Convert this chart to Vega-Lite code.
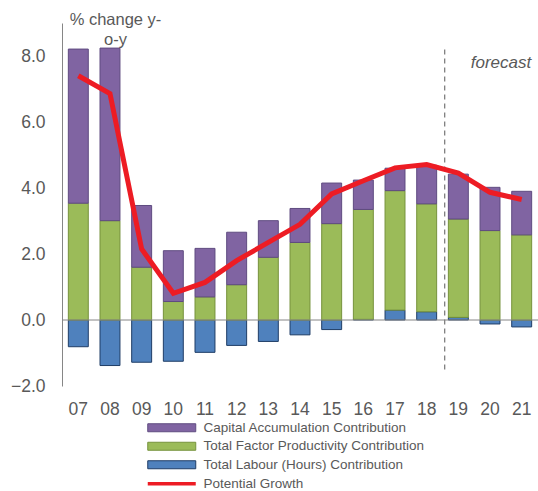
{
  "$schema": "https://vega.github.io/schema/vega-lite/v6.json",
  "autosize": {"type": "none"},
  "width": 476,
  "height": 363,
  "padding": {"left": 62, "top": 23, "right": 0, "bottom": 105},
  "background": "white",
  "config": {
    "view": {"stroke": null},
    "font": "Liberation Sans",
    "axis": {"labelFont": "Liberation Sans", "labelColor": "#595959", "labelFontSize": 17.5, "titleFont": "Liberation Sans"},
    "legend": {"labelFont": "Liberation Sans", "labelColor": "#595959", "labelFontSize": 13.5, "padding": 0, "labelLimit": 400}
  },
  "datasets": {
    "bars": [
      {"year": "07", "series": "Total Labour (Hours) Contribution", "value": -0.81},
      {"year": "07", "series": "Total Factor Productivity Contribution", "value": 3.54},
      {"year": "07", "series": "Capital Accumulation Contribution", "value": 4.67},
      {"year": "08", "series": "Total Labour (Hours) Contribution", "value": -1.38},
      {"year": "08", "series": "Total Factor Productivity Contribution", "value": 3.01},
      {"year": "08", "series": "Capital Accumulation Contribution", "value": 5.23},
      {"year": "09", "series": "Total Labour (Hours) Contribution", "value": -1.28},
      {"year": "09", "series": "Total Factor Productivity Contribution", "value": 1.60},
      {"year": "09", "series": "Capital Accumulation Contribution", "value": 1.87},
      {"year": "10", "series": "Total Labour (Hours) Contribution", "value": -1.25},
      {"year": "10", "series": "Total Factor Productivity Contribution", "value": 0.56},
      {"year": "10", "series": "Capital Accumulation Contribution", "value": 1.54},
      {"year": "11", "series": "Total Labour (Hours) Contribution", "value": -0.98},
      {"year": "11", "series": "Total Factor Productivity Contribution", "value": 0.70},
      {"year": "11", "series": "Capital Accumulation Contribution", "value": 1.47},
      {"year": "12", "series": "Total Labour (Hours) Contribution", "value": -0.77},
      {"year": "12", "series": "Total Factor Productivity Contribution", "value": 1.07},
      {"year": "12", "series": "Capital Accumulation Contribution", "value": 1.59},
      {"year": "13", "series": "Total Labour (Hours) Contribution", "value": -0.65},
      {"year": "13", "series": "Total Factor Productivity Contribution", "value": 1.90},
      {"year": "13", "series": "Capital Accumulation Contribution", "value": 1.11},
      {"year": "14", "series": "Total Labour (Hours) Contribution", "value": -0.45},
      {"year": "14", "series": "Total Factor Productivity Contribution", "value": 2.35},
      {"year": "14", "series": "Capital Accumulation Contribution", "value": 1.03},
      {"year": "15", "series": "Total Labour (Hours) Contribution", "value": -0.29},
      {"year": "15", "series": "Total Factor Productivity Contribution", "value": 2.92},
      {"year": "15", "series": "Capital Accumulation Contribution", "value": 1.23},
      {"year": "16", "series": "Total Labour (Hours) Contribution", "value": 0.02},
      {"year": "16", "series": "Total Factor Productivity Contribution", "value": 3.33},
      {"year": "16", "series": "Capital Accumulation Contribution", "value": 0.89},
      {"year": "17", "series": "Total Labour (Hours) Contribution", "value": 0.30},
      {"year": "17", "series": "Total Factor Productivity Contribution", "value": 3.62},
      {"year": "17", "series": "Capital Accumulation Contribution", "value": 0.68},
      {"year": "18", "series": "Total Labour (Hours) Contribution", "value": 0.25},
      {"year": "18", "series": "Total Factor Productivity Contribution", "value": 3.27},
      {"year": "18", "series": "Capital Accumulation Contribution", "value": 1.17},
      {"year": "19", "series": "Total Labour (Hours) Contribution", "value": 0.08},
      {"year": "19", "series": "Total Factor Productivity Contribution", "value": 2.98},
      {"year": "19", "series": "Capital Accumulation Contribution", "value": 1.36},
      {"year": "20", "series": "Total Labour (Hours) Contribution", "value": -0.12},
      {"year": "20", "series": "Total Factor Productivity Contribution", "value": 2.71},
      {"year": "20", "series": "Capital Accumulation Contribution", "value": 1.31},
      {"year": "21", "series": "Total Labour (Hours) Contribution", "value": -0.21},
      {"year": "21", "series": "Total Factor Productivity Contribution", "value": 2.58},
      {"year": "21", "series": "Capital Accumulation Contribution", "value": 1.32}
    ],
    "growth": [
      {"year": "07", "value": 7.40},
      {"year": "08", "value": 6.86},
      {"year": "09", "value": 2.15},
      {"year": "10", "value": 0.81},
      {"year": "11", "value": 1.14},
      {"year": "12", "value": 1.80},
      {"year": "13", "value": 2.35},
      {"year": "14", "value": 2.90},
      {"year": "15", "value": 3.82},
      {"year": "16", "value": 4.22},
      {"year": "17", "value": 4.61},
      {"year": "18", "value": 4.71},
      {"year": "19", "value": 4.45},
      {"year": "20", "value": 3.87},
      {"year": "21", "value": 3.65}
    ],
    "notes": [
      {"year": "20", "value": 7.8, "label": "forecast"}
    ],
    "divider": [
      {"year": "18", "top": 8.2, "bottom": -1.55}
    ]
  },
  "encoding": {
    "x": {
      "field": "year", "type": "ordinal",
      "scale": {"paddingInner": 0.37, "paddingOuter": 0.2},
      "axis": {"title": null, "domain": false, "ticks": false, "labelPadding": 14, "labelAngle": 0}
    },
    "y": {
      "field": "value", "type": "quantitative",
      "scale": {"domain": [-2, 9], "nice": false, "zero": false},
      "axis": {
        "title": ["% change y-", "o-y"],
        "titleAngle": 0, "titleAlign": "center", "titleBaseline": "top",
        "titleX": 53, "titleY": -12, "titleFontSize": 16.5, "titleFontWeight": "normal",
        "titleColor": "#595959", "titleLineHeight": 20,
        "values": [-2, 0, 2, 4, 6, 8], "format": ".1f",
        "grid": false, "ticks": false, "domainColor": "#868686", "domainWidth": 1,
        "labelPadding": 17
      }
    }
  },
  "layer": [
    {
      "data": {"name": "bars"},
      "mark": {"type": "bar", "strokeWidth": 1},
      "encoding": {
        "y": {"field": "value", "type": "quantitative", "stack": "zero"},
        "fill": {
          "field": "series", "type": "nominal",
          "scale": {
            "domain": ["Capital Accumulation Contribution", "Total Factor Productivity Contribution", "Total Labour (Hours) Contribution"],
            "range": ["#8064A2", "#9BBB59", "#4F81BD"]
          },
          "legend": {
            "title": null, "orient": "none", "legendX": 103, "legendY": 398,
            "symbolType": "M-6,-1H6V1H-6Z", "symbolSize": 64, "symbolStrokeWidth": 1,
            "labelOffset": 25, "rowPadding": 3.5,
            "encode": {"symbols": {"update": {"stroke": {"scale": "stroke", "field": "value"}, "strokeWidth": {"value": 1}}}}
          }
        },
        "stroke": {
          "field": "series", "type": "nominal",
          "scale": {
            "domain": ["Capital Accumulation Contribution", "Total Factor Productivity Contribution", "Total Labour (Hours) Contribution"],
            "range": ["#5f4b80", "#76923c", "#1f3d66"]
          },
          "legend": null
        },
        "order": {"field": "series", "sort": "descending"}
      }
    },
    {
      "data": {"values": [{"value": 0}]},
      "mark": {"type": "rule", "color": "#868686", "strokeWidth": 1},
      "encoding": {"x": null, "y": {"field": "value", "type": "quantitative"}}
    },
    {
      "data": {"name": "divider"},
      "mark": {"type": "rule", "color": "#7f7f7f", "strokeWidth": 1.3, "strokeDash": [5, 4], "xOffset": 18},
      "encoding": {
        "y": {"field": "top", "type": "quantitative"},
        "y2": {"field": "bottom"}
      }
    },
    {
      "data": {"name": "growth"},
      "mark": {"type": "line", "strokeWidth": 5},
      "encoding": {
        "color": {
          "datum": "Potential Growth", "type": "nominal",
          "scale": {"range": ["#ED1C24"]},
          "legend": {
            "title": null, "orient": "none", "legendX": 103, "legendY": 454,
            "symbolType": "M-6,0H6", "symbolSize": 64, "symbolStrokeWidth": 3.5,
            "labelOffset": 25
          }
        }
      }
    },
    {
      "data": {"name": "notes"},
      "mark": {"type": "text", "font": "Liberation Sans", "fontSize": 17, "fontStyle": "italic", "color": "#595959", "dx": 11},
      "encoding": {"text": {"field": "label"}}
    }
  ]
}
